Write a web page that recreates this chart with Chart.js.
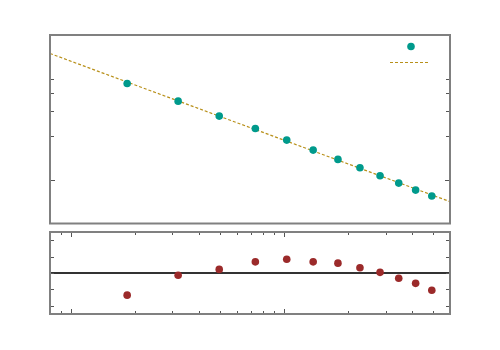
<!DOCTYPE html>
<html><head><meta charset="utf-8">
<script src="https://cdn.jsdelivr.net/npm/chart.js@4"></script>
<style>
html,body{margin:0;padding:0;background:#fff;}
#wrap{position:relative;width:500px;height:350px;}
#top{position:absolute;left:0;top:0;}
#bot{position:absolute;left:0;top:228px;}
</style></head><body>
<div id="wrap">
<canvas id="top" width="500" height="228"></canvas>
<canvas id="bot" width="500" height="122"></canvas>
</div>
<script>
// data
const xValues = [18.4, 31.9, 49.7, 73.4, 103, 137, 179, 227, 282, 345, 414, 493];
const yValues = [4.63, 3.50, 2.76, 2.27, 1.886, 1.609, 1.389, 1.215, 1.070, 0.953, 0.853, 0.776];
const fitX = [8, 600];
const fitY = [7.46, 0.71];
const residuals = [-1.35, -0.14, 0.22, 0.68, 0.84, 0.68, 0.60, 0.32, 0.04, -0.32, -0.63, -1.05];
const zeroX = [8, 600];
const zeroY = [0, 0];
const topYTicks = [1, 2, 3, 4, 5];
const topYMajor = [1];
const botXTicks = [9, 10, 20, 30, 40, 50, 60, 70, 80, 90, 100, 200, 300, 400, 500];
const botXMajor = [10, 100];
const botYTicks = [-2, -1, 0, 1, 2];

const TEAL = '#009a8c', RED = '#9b2a2a', GOLD = '#b8901a', FRAME = '#808080';

function framePlugin(xt, xMaj, yt, yMaj) {
  return {
    id: 'frame',
    afterDraw(chart) {
      const ctx = chart.ctx, a = chart.chartArea;
      const xs = chart.scales.x, ys = chart.scales.y;
      ctx.save();
      ctx.strokeStyle = '#555';
      ctx.lineWidth = 1;
      (xt || []).forEach(v => {
        const px = Math.round(xs.getPixelForValue(v)) + 0.5;
        const len = (xMaj || []).includes(v) ? 5 : 3;
        ctx.beginPath();
        ctx.moveTo(px, a.top); ctx.lineTo(px, a.top + len);
        ctx.moveTo(px, a.bottom); ctx.lineTo(px, a.bottom - len);
        ctx.stroke();
      });
      (yt || []).forEach(v => {
        const py = Math.round(ys.getPixelForValue(v)) + 0.5;
        const len = (yMaj || []).includes(v) ? 5 : 4;
        ctx.beginPath();
        ctx.moveTo(a.left, py); ctx.lineTo(a.left + len, py);
        ctx.moveTo(a.right, py); ctx.lineTo(a.right - len, py);
        ctx.stroke();
      });
      ctx.strokeStyle = FRAME;
      ctx.lineWidth = 2;
      ctx.strokeRect(a.left, a.top, a.right - a.left, a.bottom - a.top);
      ctx.restore();
    }
  };
}

const legendPlugin = {
  id: 'keyBox',
  afterDraw(chart) {
    const ctx = chart.ctx, a = chart.chartArea;
    ctx.save();
    ctx.fillStyle = TEAL;
    ctx.beginPath();
    ctx.arc(a.right - 39, a.top + 11.5, 3.8, 0, Math.PI * 2);
    ctx.fill();
    ctx.strokeStyle = GOLD;
    ctx.lineWidth = 1.2;
    ctx.setLineDash([3, 2]);
    ctx.beginPath();
    ctx.moveTo(a.right - 60, a.top + 27.5);
    ctx.lineTo(a.right - 20, a.top + 27.5);
    ctx.stroke();
    ctx.restore();
  }
};

const logX = {type: 'logarithmic', min: 8, max: 600, display: false};

new Chart(document.getElementById('top'), {
  type: 'scatter',
  data: {
    datasets: [
      {data: fitX.map((x, i) => ({x, y: fitY[i]})), showLine: true, borderColor: GOLD,
       borderWidth: 1.2, borderDash: [3, 2], pointRadius: 0, fill: false, order: 2},
      {data: xValues.map((x, i) => ({x, y: yValues[i]})), backgroundColor: TEAL,
       borderColor: TEAL, pointRadius: 3.8, borderWidth: 0, order: 1}
    ]
  },
  options: {
    responsive: false, animation: false, devicePixelRatio: 1,
    layout: {padding: {left: 50, right: 50, top: 35, bottom: 4.5}},
    plugins: {legend: {display: false}, tooltip: {enabled: false}},
    scales: {
      x: logX,
      y: {type: 'logarithmic', min: 0.502, max: 10, display: false}
    }
  },
  plugins: [framePlugin(null, null, topYTicks, topYMajor), legendPlugin]
});

new Chart(document.getElementById('bot'), {
  type: 'scatter',
  data: {
    datasets: [
      {data: zeroX.map((x, i) => ({x, y: zeroY[i]})), showLine: true, borderColor: '#333',
       borderWidth: 2, pointRadius: 0, fill: false, order: 2},
      {data: xValues.map((x, i) => ({x, y: residuals[i]})), backgroundColor: RED,
       borderColor: RED, pointRadius: 3.8, borderWidth: 0, order: 1}
    ]
  },
  options: {
    responsive: false, animation: false, devicePixelRatio: 1,
    layout: {padding: {left: 50, right: 50, top: 3, bottom: 36}},
    plugins: {legend: {display: false}, tooltip: {enabled: false}},
    scales: {
      x: logX,
      y: {type: 'linear', min: -2.5, max: 2.5, display: false}
    }
  },
  plugins: [framePlugin(botXTicks, botXMajor, botYTicks, [])]
});
</script>
</body></html>
